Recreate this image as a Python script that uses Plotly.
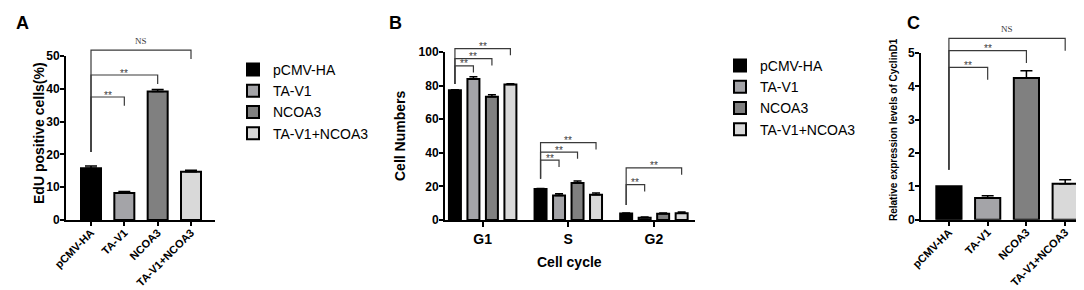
import plotly.graph_objects as go

W, H = 1084, 290
FONT = "Liberation Sans, Arial, sans-serif"

groups = ["pCMV-HA", "TA-V1", "NCOA3", "TA-V1+NCOA3"]
bar_colors = ["#000000", "#A4A4A8", "#808080", "#D9D9D9"]

# Panel A: EdU positive cells (%)
edu_mean = [15.8, 8.2, 39.2, 14.7]
edu_err = [0.7, 0.5, 0.6, 0.5]

# Panel B: cell cycle distribution
phases = ["G1", "S", "G2"]
cyc_pcmv = [77.2, 18.5, 3.9]
cyc_tav1 = [83.9, 14.6, 1.4]
cyc_ncoa3 = [73.3, 22.0, 3.7]
cyc_combo = [80.7, 15.0, 4.0]
cyc_pcmv_err = [0.4, 0.3, 0.3]
cyc_tav1_err = [1.3, 1.0, 0.4]
cyc_ncoa3_err = [1.2, 1.2, 0.5]
cyc_combo_err = [0.4, 1.0, 0.7]

# Panel C: relative CyclinD1 expression
cyclin_mean = [1.0, 0.65, 4.25, 1.08]
cyclin_err = [0.0, 0.07, 0.22, 0.12]

# Significance brackets
sig_a_right = [1, 2, 3]
sig_a_top = [37.5, 44.2, 51.8]
sig_a_label = ["**", "**", "NS"]
sig_a_base = 20.7

sig_b_phase = [0, 0, 0, 1, 1, 1, 2, 2]
sig_b_right = [1, 2, 3, 1, 2, 3, 1, 3]
sig_b_top = [91.8, 96.0, 102.0, 35.6, 40.4, 46.0, 21.0, 31.0]
sig_b_label = ["**"] * 8
sig_b_base = [81.0, 24.5, 9.0]

sig_c_right = [1, 2, 3]
sig_c_top = [4.57, 5.07, 5.44]
sig_c_label = ["**", "**", "NS"]
sig_c_base = 1.5

# pixel layout of the three panels (left, right, bottom, top) and y ranges
PA = dict(l=58, r=207, b=212, t=48, ymax=50)
PB = dict(l=437, r=687, b=212, t=44, ymax=100)
PC = dict(l=913, r=1082, b=211.7, t=45, ymax=5)

fig = go.Figure()


def px_x(p):
    return p / W


def px_y(p):
    return 1 - p / H


def ext_range(P):
    # same scale as the visible axis, extended to the top edge of the figure
    return [0, P["ymax"] * P["b"] / (P["b"] - P["t"])]


# ---------- Panel A ----------
for i, g in enumerate(groups):
    fig.add_trace(go.Bar(
        x=[i], y=[edu_mean[i]], width=0.6, name=g,
        marker=dict(color=bar_colors[i], line=dict(color="black", width=2)),
        error_y=dict(type="data", array=[edu_err[i]], arrayminus=[0], symmetric=False,
                     color="black", thickness=1.5, width=6),
        xaxis="x", yaxis="y", legend="legend", showlegend=True))

# ---------- Panel B ----------
series_b = [cyc_pcmv, cyc_tav1, cyc_ncoa3, cyc_combo]
errs_b = [cyc_pcmv_err, cyc_tav1_err, cyc_ncoa3_err, cyc_combo_err]
bw_b = 0.14
slot_b = 0.216
centers_b = [(k - 1.5) * slot_b for k in range(4)]
for k, g in enumerate(groups):
    fig.add_trace(go.Bar(
        x=list(range(len(phases))), y=series_b[k], width=bw_b,
        offset=centers_b[k] - bw_b / 2, name=g,
        marker=dict(color=bar_colors[k], line=dict(color="black", width=2)),
        error_y=dict(type="data", array=errs_b[k], arrayminus=[0] * len(phases),
                     symmetric=False, color="black", thickness=1.5, width=4),
        xaxis="x2", yaxis="y2", legend="legend2", showlegend=True))

# ---------- Panel C ----------
for i, g in enumerate(groups):
    fig.add_trace(go.Bar(
        x=[i], y=[cyclin_mean[i]], width=0.65, name=g,
        marker=dict(color=bar_colors[i], line=dict(color="black", width=2)),
        error_y=dict(type="data", array=[cyclin_err[i]], arrayminus=[0], symmetric=False,
                     color="black", thickness=1.5, width=6, visible=cyclin_err[i] > 0),
        xaxis="x3", yaxis="y3", showlegend=False))

annotations = []
LINE_C = "#3a3a3a"


def add_bracket(x0, x1, top, base, drop, label, xa, ya):
    fig.add_trace(go.Scatter(
        x=[x0, x0, x1, x1], y=[base, top, top, top - drop], mode="lines",
        line=dict(color=LINE_C, width=1.2),
        hoverinfo="skip", showlegend=False, xaxis=xa, yaxis=ya))
    if label == "NS":
        annotations.append(dict(x=(x0 + x1) / 2, y=top, xref=xa, yref=ya, text="NS",
                                showarrow=False, yanchor="bottom", yshift=2,
                                font=dict(family="Liberation Serif", size=9, color=LINE_C)))
    else:
        annotations.append(dict(x=(x0 + x1) / 2, y=top, xref=xa, yref=ya, text=label,
                                showarrow=False, yanchor="middle", yshift=2,
                                font=dict(family=FONT, size=10, color=LINE_C)))


for r, t, lab in zip(sig_a_right, sig_a_top, sig_a_label):
    add_bracket(0, r, t, sig_a_base, 2.7, lab, "x", "y4")
for ph, r, t, lab in zip(sig_b_phase, sig_b_right, sig_b_top, sig_b_label):
    add_bracket(ph + centers_b[0], ph + centers_b[r], t, sig_b_base[ph], 4.0, lab, "x2", "y5")
for r, t, lab in zip(sig_c_right, sig_c_top, sig_c_label):
    add_bracket(0, r, t, sig_c_base, 0.37, lab, "x3", "y6")

# Panel letters and axis titles
for letter, lx in [("A", 14), ("B", 387), ("C", 905)]:
    annotations.append(dict(x=px_x(lx), y=px_y(15), xref="paper", yref="paper", text=letter,
                            xanchor="center", yanchor="middle", showarrow=False,
                            font=dict(family=FONT, size=18, color="black", weight="bold")))
annotations.append(dict(x=px_x(31), y=px_y(125), xref="paper", yref="paper",
                        text="EdU positive cells(%)", textangle=-90, showarrow=False,
                        xanchor="center", yanchor="middle",
                        font=dict(family=FONT, size=14, color="black", weight="bold")))
annotations.append(dict(x=px_x(392), y=px_y(128), xref="paper", yref="paper",
                        text="Cell Numbers", textangle=-90, showarrow=False,
                        xanchor="center", yanchor="middle",
                        font=dict(family=FONT, size=14, color="black", weight="bold")))
annotations.append(dict(x=px_x(561), y=px_y(254), xref="paper", yref="paper",
                        text="Cell cycle", showarrow=False, xanchor="center", yanchor="middle",
                        font=dict(family=FONT, size=14, color="black", weight="bold")))
annotations.append(dict(x=px_x(886), y=px_y(122), xref="paper", yref="paper",
                        text="Relative expression levels of CyclinD1", textangle=-90, showarrow=False,
                        xanchor="center", yanchor="middle",
                        font=dict(family=FONT, size=10, color="black", weight="bold")))

axis_common = dict(showline=True, linecolor="black", linewidth=2, ticks="outside",
                   ticklen=4, tickwidth=1.5, tickcolor="black", showgrid=False, zeroline=False,
                   automargin=False, ticklabelstandoff=-2,
                   tickfont=dict(family=FONT, size=12, color="black", weight="bold"))
cat_font = dict(family=FONT, size=11, color="black", weight="bold")
hidden = dict(visible=False, showgrid=False, zeroline=False, automargin=False, fixedrange=True)

fig.update_layout(
    template="none",
    width=W, height=H, margin=dict(l=0, r=0, t=0, b=0, autoexpand=False),
    paper_bgcolor="white", plot_bgcolor="rgba(0,0,0,0)", barmode="overlay",
    font=dict(family=FONT, color="black"),
    xaxis=dict(domain=[px_x(PA["l"]), px_x(PA["r"])], range=[-0.75, 3.72], tickvals=[0, 1, 2, 3],
               ticktext=groups, tickangle=-45, anchor="y",
               **{**axis_common, "tickfont": cat_font, "ticklabelstandoff": -4}),
    yaxis=dict(domain=[px_y(PA["b"]), px_y(PA["t"])], range=[0, PA["ymax"]], dtick=10,
               anchor="x", **axis_common),
    yaxis4=dict(domain=[px_y(PA["b"]), 1], range=ext_range(PA), anchor="x", **hidden),
    xaxis2=dict(domain=[px_x(PB["l"]), px_x(PB["r"])], range=[-0.44, 2.48], tickvals=[0, 1, 2],
                ticktext=phases, anchor="y2", **{**axis_common, "ticklen": 5, "ticklabelstandoff": 0,
                "tickfont": dict(family=FONT, size=14, color="black", weight="bold")}),
    yaxis2=dict(domain=[px_y(PB["b"]), px_y(PB["t"])], range=[0, PB["ymax"]], dtick=20,
                anchor="x2", **axis_common),
    yaxis5=dict(domain=[px_y(PB["b"]), 1], range=ext_range(PB), anchor="x2", **hidden),
    xaxis3=dict(domain=[px_x(PC["l"]), px_x(PC["r"])], range=[-0.72, 3.64], tickvals=[0, 1, 2, 3],
                ticktext=groups, tickangle=-45, anchor="y3",
                **{**axis_common, "tickfont": cat_font, "ticklabelstandoff": -4}),
    yaxis3=dict(domain=[px_y(PC["b"]), px_y(PC["t"])], range=[0, PC["ymax"]], dtick=1,
                anchor="x3", **axis_common),
    yaxis6=dict(domain=[px_y(PC["b"]), 1], range=ext_range(PC), anchor="x3", **hidden),
    legend=dict(x=px_x(225), y=px_y(46), xanchor="left", yanchor="top",
                font=dict(family=FONT, size=14, color="black"), bgcolor="rgba(0,0,0,0)"),
    legend2=dict(x=px_x(712), y=px_y(42), xanchor="left", yanchor="top",
                 font=dict(family=FONT, size=14, color="black"), bgcolor="rgba(0,0,0,0)"),
    annotations=annotations,
    showlegend=True,
)

fig.write_html("out.html")
